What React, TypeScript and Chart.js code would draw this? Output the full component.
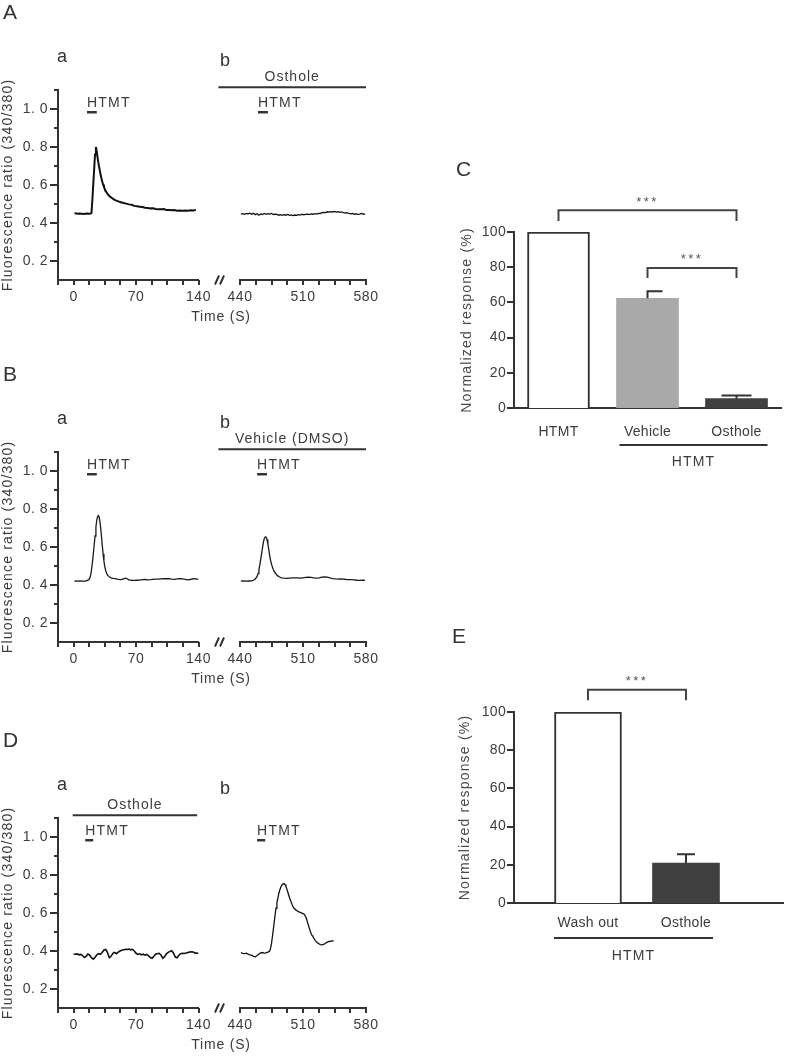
import React, { useEffect, useRef } from "react";
import { Chart, registerables } from "chart.js";

Chart.register(...registerables);

// ---------------- Trace data (time in s, fluorescence ratio 340/380) ----------------
// Panel A, trace a (HTMT alone)
const timeAa = [1, 3, 5, 7, 9, 11, 13, 15, 17, 19, 20, 21, 22, 23, 24, 25, 26, 27, 28, 29, 30, 31, 32, 33, 34, 35, 36, 38, 40, 42, 44, 46, 48, 50, 53, 56, 59, 62, 65, 68, 71, 74, 77, 80, 83, 86, 89, 92, 95, 98, 101, 104, 107, 110, 113, 116, 119, 122, 125, 128, 131, 134, 137];
const ratioAa = [0.451, 0.45, 0.449, 0.45, 0.449, 0.448, 0.449, 0.45, 0.449, 0.45, 0.452, 0.52, 0.6, 0.68, 0.76, 0.8, 0.775, 0.74, 0.71, 0.685, 0.66, 0.64, 0.62, 0.603, 0.59, 0.578, 0.568, 0.553, 0.542, 0.535, 0.528, 0.522, 0.518, 0.514, 0.509, 0.505, 0.502, 0.498, 0.496, 0.49, 0.488, 0.486, 0.484, 0.48, 0.479, 0.477, 0.478, 0.474, 0.473, 0.472, 0.473, 0.469, 0.468, 0.467, 0.468, 0.465, 0.466, 0.464, 0.466, 0.465, 0.467, 0.466, 0.468];
// Panel A, trace b (Osthole + HTMT)
const timeAb = [441, 443, 445, 447, 449, 451, 453, 455, 457, 459, 461, 463, 465, 467, 469, 471, 473, 475, 477, 479, 481, 483, 485, 487, 489, 491, 493, 495, 497, 499, 501, 503, 505, 507, 509, 511, 513, 515, 517, 519, 521, 523, 525, 527, 529, 531, 533, 535, 537, 539, 541, 543, 545, 547, 549, 551, 553, 555, 557, 559, 561, 563, 565, 567, 569, 571, 573, 575, 577, 579];
const ratioAb = [0.447, 0.449, 0.446, 0.45, 0.448, 0.452, 0.446, 0.451, 0.444, 0.449, 0.441, 0.448, 0.445, 0.45, 0.446, 0.449, 0.447, 0.45, 0.445, 0.447, 0.445, 0.441, 0.444, 0.44, 0.444, 0.441, 0.445, 0.44, 0.443, 0.439, 0.442, 0.44, 0.444, 0.442, 0.446, 0.443, 0.445, 0.447, 0.444, 0.448, 0.446, 0.449, 0.447, 0.451, 0.45, 0.454, 0.456, 0.455, 0.459, 0.457, 0.46, 0.458, 0.461, 0.457, 0.46, 0.456, 0.458, 0.454, 0.452, 0.454, 0.45, 0.448, 0.45, 0.446, 0.448, 0.445, 0.447, 0.45, 0.446, 0.448];
// Panel B, trace a (HTMT alone)
const timeBa = [1, 4, 7, 10, 13, 15, 17, 18, 19, 20, 21, 22, 23, 24, 25, 26, 27, 28, 29, 30, 31, 32, 33, 34, 35, 36, 37, 38, 40, 42, 44, 47, 50, 53, 56, 58, 60, 62, 65, 68, 71, 74, 77, 80, 83, 86, 89, 92, 95, 98, 101, 104, 107, 110, 113, 116, 119, 122, 125, 128, 131, 134, 137, 140];
const ratioBa = [0.421, 0.42, 0.421, 0.42, 0.421, 0.423, 0.428, 0.435, 0.45, 0.478, 0.515, 0.56, 0.608, 0.658, 0.705, 0.742, 0.761, 0.765, 0.75, 0.715, 0.67, 0.615, 0.565, 0.525, 0.495, 0.475, 0.462, 0.452, 0.443, 0.438, 0.435, 0.433, 0.43, 0.428, 0.432, 0.436, 0.433, 0.427, 0.425, 0.424, 0.425, 0.426, 0.428, 0.429, 0.427, 0.428, 0.43, 0.431, 0.431, 0.432, 0.433, 0.434, 0.433, 0.431, 0.43, 0.432, 0.433, 0.432, 0.43, 0.427, 0.429, 0.433, 0.432, 0.43];
// Panel B, trace b (Vehicle + HTMT)
const timeBb = [441, 444, 447, 450, 453, 455, 457, 459, 460, 461, 462, 463, 464, 465, 466, 467, 468, 469, 470, 471, 472, 473, 474, 475, 476, 477, 478, 480, 482, 484, 486, 489, 492, 495, 498, 501, 504, 507, 510, 513, 516, 519, 522, 525, 528, 531, 534, 537, 540, 543, 546, 549, 552, 555, 558, 561, 564, 567, 570, 573, 576, 579];
const ratioBb = [0.42, 0.421, 0.42, 0.421, 0.422, 0.425, 0.432, 0.445, 0.46, 0.48, 0.505, 0.535, 0.565, 0.595, 0.625, 0.645, 0.653, 0.652, 0.64, 0.615, 0.585, 0.555, 0.53, 0.51, 0.495, 0.482, 0.472, 0.458, 0.448, 0.442, 0.438, 0.436, 0.435, 0.436, 0.437, 0.438, 0.437, 0.436, 0.438, 0.44, 0.441, 0.44, 0.437, 0.436, 0.438, 0.441, 0.443, 0.441, 0.437, 0.434, 0.432, 0.431, 0.432, 0.431, 0.429, 0.428, 0.428, 0.427, 0.425, 0.424, 0.425, 0.424];
// Panel D, trace a (Osthole + HTMT)
const timeDa = [0, 2, 4, 6, 8, 10, 12, 14, 16, 18, 20, 22, 24, 26, 28, 30, 32, 34, 36, 38, 40, 42, 44, 46, 48, 50, 52, 54, 56, 58, 60, 62, 64, 66, 68, 70, 72, 74, 76, 78, 80, 82, 84, 86, 88, 90, 92, 94, 96, 98, 100, 102, 104, 106, 108, 110, 112, 114, 116, 118, 120, 122, 124, 126, 128, 130, 132, 134, 136, 138, 140];
const ratioDa = [0.384, 0.383, 0.385, 0.38, 0.382, 0.376, 0.366, 0.372, 0.384, 0.378, 0.365, 0.357, 0.366, 0.38, 0.386, 0.383, 0.392, 0.405, 0.408, 0.392, 0.365, 0.372, 0.388, 0.392, 0.386, 0.394, 0.4, 0.404, 0.407, 0.409, 0.408, 0.41, 0.406, 0.409, 0.4, 0.388, 0.382, 0.385, 0.38, 0.383, 0.378, 0.382, 0.375, 0.366, 0.362, 0.372, 0.384, 0.386, 0.388, 0.378, 0.362, 0.37, 0.385, 0.393, 0.398, 0.401, 0.388, 0.368, 0.364, 0.378, 0.386, 0.388, 0.387, 0.389, 0.392, 0.394, 0.396, 0.395, 0.39, 0.388, 0.389];
// Panel D, trace b (wash out + HTMT)
const timeDb = [441, 443, 445, 447, 449, 451, 453, 455, 457, 459, 461, 463, 465, 467, 469, 471, 473, 474, 475, 476, 477, 478, 479, 480, 481, 482, 483, 484, 485, 486, 487, 488, 489, 490, 491, 492, 493, 494, 495, 496, 497, 498, 499, 500, 501, 502, 503, 504, 505, 506, 507, 508, 509, 510, 511, 512, 513, 514, 515, 516, 517, 518, 519, 520, 521, 522, 523, 524, 525, 526, 527, 528, 529, 530, 531, 532, 533, 534, 535, 536, 537, 538, 539, 540, 541, 542, 543, 544];
const ratioDb = [0.391, 0.388, 0.386, 0.389, 0.384, 0.38, 0.378, 0.372, 0.37, 0.376, 0.384, 0.39, 0.392, 0.389, 0.39, 0.394, 0.4, 0.415, 0.44, 0.475, 0.511, 0.55, 0.59, 0.625, 0.655, 0.675, 0.7, 0.718, 0.732, 0.743, 0.75, 0.754, 0.755, 0.75, 0.74, 0.727, 0.712, 0.696, 0.68, 0.668, 0.655, 0.643, 0.632, 0.625, 0.62, 0.617, 0.613, 0.61, 0.607, 0.605, 0.603, 0.601, 0.599, 0.597, 0.594, 0.589, 0.58, 0.567, 0.552, 0.536, 0.52, 0.505, 0.492, 0.482, 0.476, 0.468, 0.46, 0.453, 0.448, 0.443, 0.44, 0.437, 0.434, 0.432, 0.432, 0.433, 0.435, 0.438, 0.441, 0.444, 0.447, 0.449, 0.45, 0.451, 0.452, 0.452, 0.453, 0.454];

// Trace axes ticks
const xLabelTicksLeft = [0, 70, 140];
const xLabelTicksRight = [440, 510, 580];
const xMarkTicksLeft = [-17.5, 0, 17.5, 35, 52.5, 70, 87.5, 105, 122.5, 140];
const xMarkTicksRight = [440, 457.5, 475, 492.5, 510, 527.5, 545, 562.5, 580];
const yLabelTicks = [0.2, 0.4, 0.6, 0.8, 1.0];
const yMinorTicks = [0.3, 0.5, 0.7, 0.9, 1.1];

// ---------------- Bar data ----------------
const cCategories = ["HTMT", "Vehicle", "Osthole"];
const cMeans = [100, 62.3, 5.3];
const cSem = [0, 4.1, 1.8];
const eCategories = ["Wash out", "Osthole"];
const eMeans = [100, 20.9];
const eSem = [0, 4.6];
const barTicks = [0, 20, 40, 60, 80, 100];

// ---------------- Styling ----------------
const FONT = "'Liberation Sans', Arial, Helvetica, sans-serif";
const INK = "#333333";
const LABEL = "#3c3c3c";
const SPAN_LEVEL = 1.115;
const PULSE_LEVEL = 0.983;

type TextItem = {
  text: string;
  x: number;
  y: number;
  size: number;
  align?: CanvasTextAlign;
  spacing?: number;
  color?: string;
  rotate?: boolean;
};

function drawText(ctx: any, t: TextItem) {
  ctx.save();
  ctx.font = `${t.size}px ${FONT}`;
  ctx.fillStyle = t.color || LABEL;
  ctx.textAlign = t.align || "left";
  ctx.letterSpacing = `${t.spacing ?? 1}px`;
  if (t.rotate) {
    ctx.translate(t.x, t.y);
    ctx.rotate(-Math.PI / 2);
    ctx.textBaseline = "middle";
    ctx.fillText(t.text, 0, 0);
  } else {
    ctx.textBaseline = "alphabetic";
    ctx.fillText(t.text, t.x, t.y);
  }
  ctx.restore();
}

type Treatment = { label: string; start: number; end: number; kind: "span" | "pulse" };
type TraceSpec = {
  side: "a" | "b";
  times: number[];
  ratios: number[];
  lineWidth: number;
  color: string;
  treatments: Treatment[];
  texts: TextItem[];
};

const TRACE_W = 380;
const TRACE_H = 325;
const TRACE_TOP = 90;

function makeTraceConfig(s: TraceSpec): any {
  const isA = s.side === "a";
  const decor = {
    id: "traceDecor",
    beforeDraw(chart: any) {
      chart.ctx.letterSpacing = "0.5px";
    },
    afterDraw(chart: any) {
      const { ctx, chartArea: ca, scales } = chart;
      const xs = scales.x;
      const ys = scales.y;
      ctx.save();
      ctx.strokeStyle = INK;
      ctx.lineWidth = 2;
      ctx.lineCap = "butt";
      ctx.beginPath();
      (isA ? xMarkTicksLeft : xMarkTicksRight).forEach((v) => {
        const p = Math.round(xs.getPixelForValue(v));
        ctx.moveTo(p, ca.bottom);
        ctx.lineTo(p, ca.bottom + 5);
      });
      if (isA) {
        yLabelTicks.forEach((v) => {
          const p = Math.round(ys.getPixelForValue(v));
          ctx.moveTo(ca.left - 8, p);
          ctx.lineTo(ca.left, p);
        });
        yMinorTicks.forEach((v) => {
          const p = Math.round(ys.getPixelForValue(v));
          ctx.moveTo(ca.left - 4, p);
          ctx.lineTo(ca.left, p);
        });
      } else {
        const y = ca.bottom;
        const x = ca.left;
        ctx.moveTo(x - 25, y + 4.5);
        ctx.lineTo(x - 21, y - 4.5);
        ctx.moveTo(x - 20, y + 4.5);
        ctx.lineTo(x - 16, y - 4.5);
      }
      ctx.stroke();
      s.treatments.forEach((t) => {
        const x1 = xs.getPixelForValue(t.start);
        const x2 = xs.getPixelForValue(t.end);
        const y = ys.getPixelForValue(t.kind === "span" ? SPAN_LEVEL : PULSE_LEVEL);
        ctx.beginPath();
        ctx.lineWidth = t.kind === "span" ? 2 : 2.5;
        ctx.moveTo(x1, y);
        ctx.lineTo(x2, y);
        ctx.stroke();
        if (t.kind === "span") {
          drawText(ctx, { text: t.label, x: (x1 + x2) / 2, y: y - 6.5, size: 14, align: "center", spacing: 1 });
        } else {
          drawText(ctx, { text: t.label, x: x1, y: y - 5.6, size: 14, spacing: 1.2 });
        }
      });
      if (isA) {
        drawText(ctx, {
          text: "Fluorescence ratio (340/380)",
          x: 8,
          y: (ca.top + ca.bottom) / 2,
          size: 14,
          align: "center",
          spacing: 1.2,
          rotate: true,
        });
      }
      s.texts.forEach((t) => drawText(ctx, t));
      ctx.restore();
    },
  };
  return {
    type: "line",
    data: {
      datasets: [
        {
          data: s.times.map((t, i) => ({ x: t, y: s.ratios[i] })),
          borderColor: s.color,
          borderWidth: s.lineWidth,
          pointRadius: 0,
          tension: 0,
          fill: false,
        },
      ],
    },
    options: {
      animation: false,
      responsive: false,
      events: [],
      layout: {
        padding: isA
          ? { left: 0, right: TRACE_W - 198.5, top: TRACE_TOP, bottom: 5 }
          : { left: 240, right: TRACE_W - 366, top: TRACE_TOP, bottom: 5 },
      },
      plugins: { legend: { display: false }, tooltip: { enabled: false } },
      scales: {
        x: {
          type: "linear",
          min: isA ? -17.5 : 440,
          max: isA ? 140 : 580,
          grid: { display: false, drawTicks: false },
          border: { display: true, color: INK, width: 2 },
          ticks: {
            color: LABEL,
            font: { family: FONT, size: 14 },
            padding: 8.6,
            autoSkip: false,
            maxRotation: 0,
            callback: (v: any) => String(v),
          },
          afterBuildTicks: (sc: any) => {
            sc.ticks = (isA ? xLabelTicksLeft : xLabelTicksRight).map((v) => ({ value: v }));
          },
          afterFit: (sc: any) => {
            sc.height = 40;
            sc.paddingLeft = 0;
            sc.paddingRight = 0;
          },
        },
        y: {
          type: "linear",
          display: isA,
          min: 0.1,
          max: 1.1,
          grid: { display: false, drawTicks: false },
          border: { display: true, color: INK, width: 2 },
          ticks: {
            color: LABEL,
            font: { family: FONT, size: 14 },
            padding: 10,
            autoSkip: false,
            callback: (v: any) => Number(v).toFixed(1).replace(".", ". "),
          },
          afterBuildTicks: (sc: any) => {
            sc.ticks = yLabelTicks.map((v) => ({ value: v }));
          },
          afterFit: (sc: any) => {
            sc.width = isA ? 58 : 0;
            sc.paddingTop = 0;
            sc.paddingBottom = 0;
          },
        },
      },
    },
    plugins: [decor],
  };
}

type Bracket = { from: number; to: number; level: number; leg: number };
type BarSpec = {
  categories: string[];
  means: number[];
  sem: number[];
  colors: string[];
  borderWidths: number[];
  barThickness: number;
  capLeft: number[];
  capRight: number[];
  xMin: number;
  xMax: number;
  paddings: { left: number; right: number; top: number; bottom: number };
  labelPadding: number;
  brackets: Bracket[];
  group: { label: string; from: number; to: number; padL: number; padR: number; lineDy: number; textDy: number };
  letter: TextItem;
  titleX: number;
};

function makeBarConfig(s: BarSpec): any {
  const decor = {
    id: "barDecor",
    beforeDraw(chart: any) {
      chart.ctx.letterSpacing = "0.3px";
    },
    afterDatasetsDraw(chart: any) {
      const { ctx, scales } = chart;
      const xs = scales.x;
      const ys = scales.y;
      ctx.save();
      ctx.strokeStyle = INK;
      ctx.lineWidth = 2;
      s.sem.forEach((e, i) => {
        if (!e) return;
        const x = xs.getPixelForValue(i + 1);
        const yb = ys.getPixelForValue(s.means[i]);
        const yt = ys.getPixelForValue(s.means[i] + e);
        ctx.beginPath();
        ctx.moveTo(x, yb);
        ctx.lineTo(x, yt);
        ctx.moveTo(x - s.capLeft[i], yt);
        ctx.lineTo(x + s.capRight[i], yt);
        ctx.stroke();
      });
      ctx.restore();
    },
    afterDraw(chart: any) {
      const { ctx, chartArea: ca, scales } = chart;
      const xs = scales.x;
      const ys = scales.y;
      ctx.save();
      ctx.strokeStyle = INK;
      ctx.lineWidth = 2;
      ctx.beginPath();
      barTicks.forEach((v) => {
        const p = Math.round(ys.getPixelForValue(v));
        ctx.moveTo(ca.left - 7, p);
        ctx.lineTo(ca.left, p);
      });
      ctx.stroke();
      ctx.strokeStyle = "#444";
      s.brackets.forEach((b) => {
        const x1 = xs.getPixelForValue(b.from + 1);
        const x2 = xs.getPixelForValue(b.to + 1);
        const y = ys.getPixelForValue(b.level);
        const yl = ys.getPixelForValue(b.level - b.leg);
        ctx.beginPath();
        ctx.moveTo(x1, yl);
        ctx.lineTo(x1, y);
        ctx.lineTo(x2, y);
        ctx.lineTo(x2, yl);
        ctx.stroke();
        drawText(ctx, { text: "***", x: (x1 + x2) / 2, y: y - 4.5, size: 13, align: "center", spacing: 2.5, color: "#555" });
      });
      const g = s.group;
      const gx1 = xs.getPixelForValue(g.from + 1) - g.padL;
      const gx2 = xs.getPixelForValue(g.to + 1) + g.padR;
      ctx.strokeStyle = INK;
      ctx.beginPath();
      ctx.moveTo(gx1, ca.bottom + g.lineDy);
      ctx.lineTo(gx2, ca.bottom + g.lineDy);
      ctx.stroke();
      drawText(ctx, { text: g.label, x: (gx1 + gx2) / 2, y: ca.bottom + g.textDy, size: 14, align: "center", spacing: 1.2 });
      drawText(ctx, {
        text: "Normalized response (%)",
        x: s.titleX,
        y: (ca.top + ca.bottom) / 2,
        size: 14,
        align: "center",
        spacing: 1.2,
        color: "#4a4a4a",
        rotate: true,
      });
      drawText(ctx, s.letter);
      ctx.restore();
    },
  };
  return {
    type: "bar",
    data: {
      datasets: [
        {
          data: s.means.map((m, i) => ({ x: i + 1, y: m })),
          backgroundColor: s.colors,
          borderColor: INK,
          borderWidth: s.borderWidths,
          barThickness: s.barThickness,
        },
      ],
    },
    options: {
      animation: false,
      responsive: false,
      events: [],
      layout: { padding: s.paddings },
      plugins: { legend: { display: false }, tooltip: { enabled: false } },
      scales: {
        x: {
          type: "linear",
          offset: false,
          min: s.xMin,
          max: s.xMax,
          z: 1,
          grid: { display: false, offset: false, drawTicks: false },
          border: { display: true, color: INK, width: 2 },
          ticks: {
            color: LABEL,
            font: { family: FONT, size: 14 },
            padding: s.labelPadding,
            autoSkip: false,
            maxRotation: 0,
            callback: (v: any) => s.categories[Math.round(Number(v)) - 1] ?? "",
          },
          afterBuildTicks: (sc: any) => {
            sc.ticks = s.categories.map((_, i) => ({ value: i + 1 }));
          },
          afterFit: (sc: any) => {
            sc.height = 60;
            sc.paddingLeft = 0;
            sc.paddingRight = 0;
          },
        },
        y: {
          type: "linear",
          min: 0,
          max: 100,
          z: 1,
          grid: { display: false, drawTicks: false },
          border: { display: true, color: INK, width: 2 },
          ticks: {
            color: LABEL,
            font: { family: FONT, size: 14 },
            padding: 8,
            autoSkip: false,
            callback: (v: any) => String(v),
          },
          afterBuildTicks: (sc: any) => {
            sc.ticks = barTicks.map((v) => ({ value: v }));
          },
          afterFit: (sc: any) => {
            sc.width = 94;
            sc.paddingTop = 0;
            sc.paddingBottom = 0;
          },
        },
      },
    },
    plugins: [decor],
  };
}

function ChartCanvas(props: { left: number; top: number; width: number; height: number; make: () => any }) {
  const ref = useRef<HTMLCanvasElement | null>(null);
  useEffect(() => {
    const chart = new Chart(ref.current as HTMLCanvasElement, props.make());
    return () => chart.destroy();
  }, []);
  return (
    <canvas
      ref={ref}
      width={props.width}
      height={props.height}
      style={{ position: "absolute", left: props.left, top: props.top, width: props.width, height: props.height }}
    />
  );
}

const panelTexts = (letter: string): TextItem[] => [
  { text: letter, x: 3, y: 19, size: 21, spacing: 0, color: "#333" },
  { text: "a", x: 57, y: 62, size: 18, spacing: 0, color: "#333" },
  { text: "b", x: 220, y: 66, size: 18, spacing: 0, color: "#333" },
  { text: "Time (S)", x: 221, y: 321, size: 14, align: "center", spacing: 0.8 },
];

const traceSpecs: { top: number; spec: TraceSpec }[] = [
  {
    top: 0,
    spec: { side: "a", times: timeAa, ratios: ratioAa, lineWidth: 2, color: "#111", treatments: [{ label: "HTMT", start: 15, end: 26, kind: "pulse" }], texts: panelTexts("A") },
  },
  {
    top: 0,
    spec: {
      side: "b", times: timeAb, ratios: ratioAb, lineWidth: 1.3, color: "#111",
      treatments: [{ label: "Osthole", start: 416, end: 580, kind: "span" }, { label: "HTMT", start: 460, end: 471, kind: "pulse" }],
      texts: [],
    },
  },
  {
    top: 362,
    spec: { side: "a", times: timeBa, ratios: ratioBa, lineWidth: 1.3, color: "#1a1a1a", treatments: [{ label: "HTMT", start: 15, end: 26, kind: "pulse" }], texts: panelTexts("B") },
  },
  {
    top: 362,
    spec: {
      side: "b", times: timeBb, ratios: ratioBb, lineWidth: 1.3, color: "#1a1a1a",
      treatments: [{ label: "Vehicle (DMSO)", start: 416, end: 580, kind: "span" }, { label: "HTMT", start: 459, end: 470, kind: "pulse" }],
      texts: [],
    },
  },
  {
    top: 728,
    spec: {
      side: "a", times: timeDa, ratios: ratioDa, lineWidth: 1.6, color: "#111",
      treatments: [{ label: "Osthole", start: -1, end: 138.5, kind: "span" }, { label: "HTMT", start: 13, end: 22, kind: "pulse" }],
      texts: panelTexts("D"),
    },
  },
  {
    top: 728,
    spec: { side: "b", times: timeDb, ratios: ratioDb, lineWidth: 1.3, color: "#111", treatments: [{ label: "HTMT", start: 459, end: 468, kind: "pulse" }], texts: [] },
  },
];

const specC: BarSpec = {
  categories: cCategories,
  means: cMeans,
  sem: cSem,
  colors: ["#ffffff", "#a9a9a9", "#404040"],
  borderWidths: [2, 0, 0],
  barThickness: 62,
  capLeft: [0, 1, 15],
  capRight: [0, 15, 15],
  xMin: 0.5,
  xMax: 3.5,
  paddings: { left: 0, right: 6, top: 82, bottom: 12 },
  labelPadding: 15.6,
  brackets: [
    { from: 0, to: 2, level: 112.3, leg: 6.1 },
    { from: 1, to: 2, level: 79.6, leg: 5.8 },
  ],
  group: { label: "HTMT", from: 1, to: 2, padL: 28, padR: 31, lineDy: 37, textDy: 58 },
  letter: { text: "C", x: 36, y: 26, size: 21, spacing: 0, color: "#333" },
  titleX: 47,
};

const specE: BarSpec = {
  categories: eCategories,
  means: eMeans,
  sem: eSem,
  colors: ["#ffffff", "#404040"],
  borderWidths: [2, 0],
  barThickness: 67,
  capLeft: [0, 9],
  capRight: [0, 9],
  xMin: 0.245,
  xMax: 2.99,
  paddings: { left: 0, right: 4, top: 92, bottom: 17 },
  labelPadding: 11.3,
  brackets: [{ from: 0, to: 1, level: 111.7, leg: 5.6 }],
  group: { label: "HTMT", from: 0, to: 1, padL: 34, padR: 27, lineDy: 35, textDy: 57 },
  letter: { text: "E", x: 32, y: 23, size: 21, spacing: 0, color: "#333" },
  titleX: 45,
};

export default function App() {
  return (
    <div style={{ position: "absolute", left: 0, top: 0, width: 787, height: 1057, overflow: "hidden", background: "#fff" }}>
      {traceSpecs.map((t, i) => (
        <ChartCanvas key={i} left={0} top={t.top} width={TRACE_W} height={TRACE_H} make={() => makeTraceConfig(t.spec)} />
      ))}
      <ChartCanvas left={420} top={150} width={367} height={330} make={() => makeBarConfig(specC)} />
      <ChartCanvas left={420} top={620} width={367} height={360} make={() => makeBarConfig(specE)} />
    </div>
  );
}
